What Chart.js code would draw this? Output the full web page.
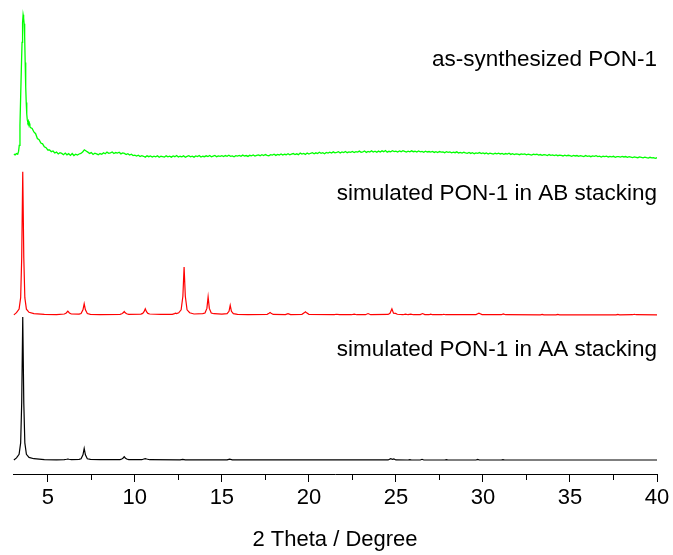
<!DOCTYPE html>
<html><head><meta charset="utf-8">
<script src="https://cdn.jsdelivr.net/npm/chart.js@4/dist/chart.umd.min.js"></script>
<style>html,body{margin:0;padding:0;background:#fff}</style>
</head><body>
<canvas id="c" width="673" height="555"></canvas>
<script>
const xTicks = [5, 10, 15, 20, 25, 30, 35, 40];
const xMinorTicks = [7.5, 12.5, 17.5, 22.5, 27.5, 32.5, 37.5];
const seriesNames = ['simulated PON-1 in AA stacking', 'simulated PON-1 in AB stacking', 'as-synthesized PON-1'];
const seriesColors = ['#000000', '#ff0000', '#00ff00'];
const seriesOffsets = [0, 101.5, 212];
const labelLevels = [72.7, 181.8, 275.7];

// [2theta, intensity]
const aaStacking = [[3.05,0],[3.2,1.5],[3.35,4],[3.44,12],[3.5,40],[3.56,100],[3.62,40],[3.68,12],[3.77,4],[3.92,1.8],[4.2,0.9],[4.8,0.3],[5.5,0.1],[5.95,0.2],[6.08,0.5],[6.15,0.7],[6.22,0.5],[6.35,0.2],[6.8,0.4],[6.91,0.9],[7.02,3.6],[7.09,8.1],[7.16,3.6],[7.27,0.9],[7.45,0.4],[8.0,0.2],[9.15,0.3],[9.25,0.7],[9.33,1.4],[9.39,2.3],[9.45,1.4],[9.53,0.7],[9.65,0.3],[10.4,0.2],[10.52,0.7],[10.6,1.0],[10.68,0.7],[10.85,0.2],[12.6,0.05],[12.75,0.4],[12.9,0.05],[15.3,0.05],[15.45,0.6],[15.6,0.05],[24.55,0.05],[24.7,0.9],[24.8,0.5],[24.88,0.7],[25.0,0.05],[25.7,0],[25.8,0.3],[25.9,0],[26.4,0],[26.5,0.5],[26.6,0],[27.8,0],[27.9,0.2],[28.0,0],[29.6,0],[29.7,0.4],[29.8,0],[31.05,0],[31.15,0.3],[31.25,0],[40,0]];

const abStacking = [[3.05,0],[3.2,1.5],[3.35,4],[3.44,12],[3.5,40],[3.56,100],[3.62,40],[3.68,12],[3.77,4],[3.92,1.8],[4.2,0.9],[4.8,0.3],[5.5,0.2],[5.95,0.6],[6.06,1.3],[6.15,2.6],[6.24,1.3],[6.35,0.6],[6.8,0.5],[6.91,0.9],[7.02,3.5],[7.09,7.7],[7.16,3.5],[7.27,0.9],[7.45,0.4],[8.0,0.2],[9.15,0.4],[9.25,0.8],[9.33,1.4],[9.39,2.3],[9.45,1.4],[9.53,0.8],[9.65,0.4],[10.35,0.5],[10.45,1.0],[10.53,2.2],[10.6,4.2],[10.67,2.2],[10.75,1.0],[10.85,0.6],[11.5,0.3],[12.15,0.4],[12.28,0.9],[12.34,1.2],[12.4,0.9],[12.52,1.4],[12.66,3.5],[12.76,13],[12.83,33.5],[12.9,13],[13.0,3.5],[13.15,1.5],[13.4,0.6],[13.9,0.9],[14.03,1.3],[14.14,4.5],[14.21,12.5],[14.28,4.5],[14.39,1.3],[14.55,0.8],[15.0,0.5],[15.3,0.8],[15.41,2.5],[15.48,6.7],[15.55,2.5],[15.66,0.8],[15.9,0.3],[16.5,0.2],[17.6,0.4],[17.71,1.1],[17.77,1.6],[17.83,1.1],[17.95,0.3],[18.65,0.2],[18.8,0.9],[18.95,0.2],[19.6,0.4],[19.73,1.4],[19.8,2.1],[19.87,1.4],[20.0,0.4],[21.45,0.1],[21.6,0.4],[21.75,0.1],[22.45,0.1],[22.6,0.5],[22.75,0.1],[23.25,0.1],[23.4,0.9],[23.55,0.1],[24.55,0.3],[24.66,1.1],[24.77,4.2],[24.86,1.2],[24.98,1.0],[25.08,0.4],[25.4,0.1],[25.55,0.5],[25.7,0.1],[25.86,0.5],[26.0,0.1],[26.4,0.2],[26.53,0.9],[26.66,0.2],[26.9,0.1],[27.0,0.5],[27.1,0.1],[27.65,0.1],[27.75,0.4],[27.85,0.1],[29.6,0.2],[29.7,0.8],[29.77,1.2],[29.84,0.8],[29.95,0.2],[31.05,0.1],[31.17,0.6],[31.3,0.1],[33.3,0.05],[33.4,0.3],[33.5,0.05],[34.2,0.05],[34.3,0.3],[34.4,0.05],[37.65,0.05],[37.75,0.3],[37.85,0.05],[38.6,0.1],[38.7,0.4],[38.8,0.1],[40,0]];

const asSynPeak = [[3.05,1.9],[3.12,1.4],[3.2,2.3],[3.27,1.8],[3.32,3.8],[3.36,8],[3.4,22],[3.44,42],[3.48,62],[3.52,80],[3.55,94],[3.58,99.3],[3.61,97],[3.64,93],[3.67,84],[3.7,66],[3.73,49],[3.76,38],[3.79,30],[3.82,26],[3.85,24.3],[3.88,25.1],[3.91,22.8],[3.94,23.4],[3.97,21.2]];
const asSynTailStart = 4.0;
const asSynTailStep = 0.1;
const asSynTail = [
 20.5, 19.8, 17.4, 16.2, 12.8, 12.0, 9.6, 9.1, 7.0, 6.4, 4.8,
 4.9, 3.6, 4.1, 2.7, 3.3, 2.0, 2.9, 2.4, 1.5, 2.6,
 1.4, 2.2, 1.0, 2.3, 0.9, 1.8, 1.3, 2.0, 2.4, 3.4,
 4.9, 4.1, 3.3, 2.4, 3.0, 1.7, 2.6, 2.1, 1.5, 2.3,
 1.8, 2.9, 2.2, 3.3, 2.5, 2.8, 3.4, 2.3, 3.0, 2.6,
 3.2, 2.1, 2.8, 2.4, 1.6, 2.2, 1.3, 1.8, 0.9, 1.2,
 0.6, 1.1, 0.2, 0.8, 0.4, -0.2, 0.7, 0.1, 0.6, -0.1,
 0.5, 0.0, 0.8, -0.3, 0.4, 0.2, -0.2, 0.7, 0.0, 0.5,
 -0.2, 0.6, 0.1, 0.9, -0.1, 0.4, 0.0, 0.7, -0.3, 0.3,
 0.8, 0.0, 0.5, -0.2, 0.6, 0.2, 0.9, -0.1, 0.4, 0.1,
 0.7, 0.2, 0.9, 0.0, 0.5, 1.0, 0.1, 0.6, 0.3, 0.8,
 0.2, 0.9, 0.4, 1.1, 0.3, 0.7, 0.0, 0.8, 0.5, 1.0,
 0.4, 1.2, 0.6, 0.9, 0.3, 1.1, 0.7, 1.3, 0.5, 1.0,
 1.4, 0.8, 1.5, 0.9, 1.6, 1.1, 0.7, 1.5, 1.2, 1.8,
 1.0, 1.7, 1.3, 2.0, 1.2, 1.8, 1.5, 2.2, 1.4, 1.9,
 2.3, 1.6, 2.1, 1.5, 2.6, 1.9, 2.4, 1.7, 2.7, 2.0,
 2.5, 2.9, 2.1, 2.8, 2.3, 3.2, 2.5, 2.9, 2.2, 3.1,
 2.6, 3.3, 2.7, 3.5, 2.8, 3.1, 3.6, 2.7, 3.4, 3.0,
 3.7, 2.9, 3.4, 3.1, 3.8, 3.0, 3.6, 3.3, 4.0, 3.2,
 3.5, 4.1, 3.1, 3.8, 3.3, 4.2, 3.4, 3.9, 3.2, 4.0,
 3.4, 4.2, 3.6, 4.4, 3.3, 3.9, 3.5, 4.3, 3.7, 4.0,
 3.4, 4.1, 3.6, 4.3, 3.8, 3.3, 4.0, 3.5, 4.2, 3.6,
 3.9, 3.3, 4.1, 3.5, 3.8, 3.2, 3.9, 3.4, 3.7, 3.3,
 3.8, 3.1, 3.6, 3.0, 3.7, 3.3, 3.5, 2.9, 3.6, 3.1,
 3.4, 2.8, 3.3, 2.9, 3.5, 2.7, 3.1, 2.6, 3.2, 2.8,
 2.5, 3.1, 2.4, 2.9, 2.2, 2.8, 2.5, 3.0, 2.3, 2.7,
 2.2, 2.7, 2.0, 2.6, 2.3, 1.9, 2.5, 2.1, 2.6, 2.0,
 2.4, 1.8, 2.3, 1.9, 2.5, 1.7, 2.2, 1.6, 2.1, 1.9,
 1.5, 2.1, 1.7, 2.0, 1.4, 1.9, 1.6, 1.2, 1.8, 1.5,
 1.8, 1.2, 1.6, 1.0, 1.5, 1.3, 0.9, 1.6, 1.1, 1.4,
 0.9, 1.3, 0.8, 1.2, 1.0, 0.6, 1.2, 0.7, 1.1, 0.8,
 0.4, 1.0, 0.6, 0.9, 0.3, 0.8, 0.5, 0.2, 0.9, 0.4,
 0.7, 0.1, 0.6, 0.3, 0.8, 0.2, 0.5, -0.1, 0.4, 0.2,
 0.5, -0.1, 0.3, 0.0, 0.4, -0.3, 0.2, 0.1, -0.2, 0.3,
 -0.1, 0.2, -0.4, 0.1, -0.2, -0.5, 0.0, -0.3, -0.6, -0.1,
 -0.4, -0.7, -0.2, -0.6, -0.9, -0.3, -0.7, -0.5, -1.0, -0.6
];

const asSynthesized = asSynPeak.concat(asSynTail.map((v, i) => [+(asSynTailStart + i * asSynTailStep).toFixed(2), v]));
const seriesData = [aaStacking, abStacking, asSynthesized];

const FONT = '"Liberation Sans", Arial, sans-serif';

const labelPlugin = {
  id: 'labels',
  afterDatasetsDraw(chart) {
    const {ctx, chartArea, scales} = chart;
    ctx.save();
    ctx.fillStyle = '#000';
    ctx.font = '22.5px ' + FONT;
    ctx.textAlign = 'right';
    ctx.textBaseline = 'alphabetic';
    seriesNames.forEach((n, i) => {
      ctx.fillText(n, chartArea.right, scales.y.getPixelForValue(labelLevels[i]));
    });
    ctx.restore();
  }
};
const minorTickPlugin = {
  id: 'minorTicks',
  afterDraw(chart) {
    const {ctx, scales} = chart;
    const s = scales.x;
    ctx.save();
    ctx.strokeStyle = '#000';
    ctx.lineWidth = 1;
    ctx.beginPath();
    xMinorTicks.forEach(v => {
      const x = Math.round(s.getPixelForValue(v)) + 0.5;
      ctx.moveTo(x, s.top);
      ctx.lineTo(x, s.top + 6);
    });
    ctx.stroke();
    ctx.restore();
  }
};

new Chart(document.getElementById('c'), {
  type: 'line',
  data: {
    datasets: seriesData.map((d, i) => ({
      label: seriesNames[i],
      data: d.map(([t, v]) => ({x: t, y: v + seriesOffsets[i]})),
      borderColor: seriesColors[i],
      backgroundColor: seriesColors[i],
      borderWidth: i === 2 ? 1.3 : 1.2,
      pointRadius: 0,
      tension: 0,
      fill: false
    }))
  },
  options: {
    responsive: false,
    animation: false,
    devicePixelRatio: 1,
    layout: {padding: {left: 13, right: 16, top: 5, bottom: 0}},
    plugins: {legend: {display: false}, tooltip: {enabled: false}},
    scales: {
      x: {
        type: 'linear',
        min: 3,
        max: 40,
        afterBuildTicks: s => { s.ticks = xTicks.map(v => ({value: v})); },
        afterFit: s => { s.height = 81; },
        ticks: {font: {size: 22, family: FONT}, color: '#000', maxRotation: 0, autoSkip: false, padding: 3},
        grid: {drawOnChartArea: false, drawTicks: true, tickLength: 8, color: '#000', tickColor: '#000'},
        border: {display: true, color: '#000', width: 1},
        title: {display: true, text: '2 Theta / Degree', color: '#000', font: {size: 22, family: FONT}, padding: {top: 0, bottom: 2}}
      },
      y: {display: false, min: -9.79, max: 318.18}
    }
  },
  plugins: [labelPlugin, minorTickPlugin]
});
</script>
</body></html>
